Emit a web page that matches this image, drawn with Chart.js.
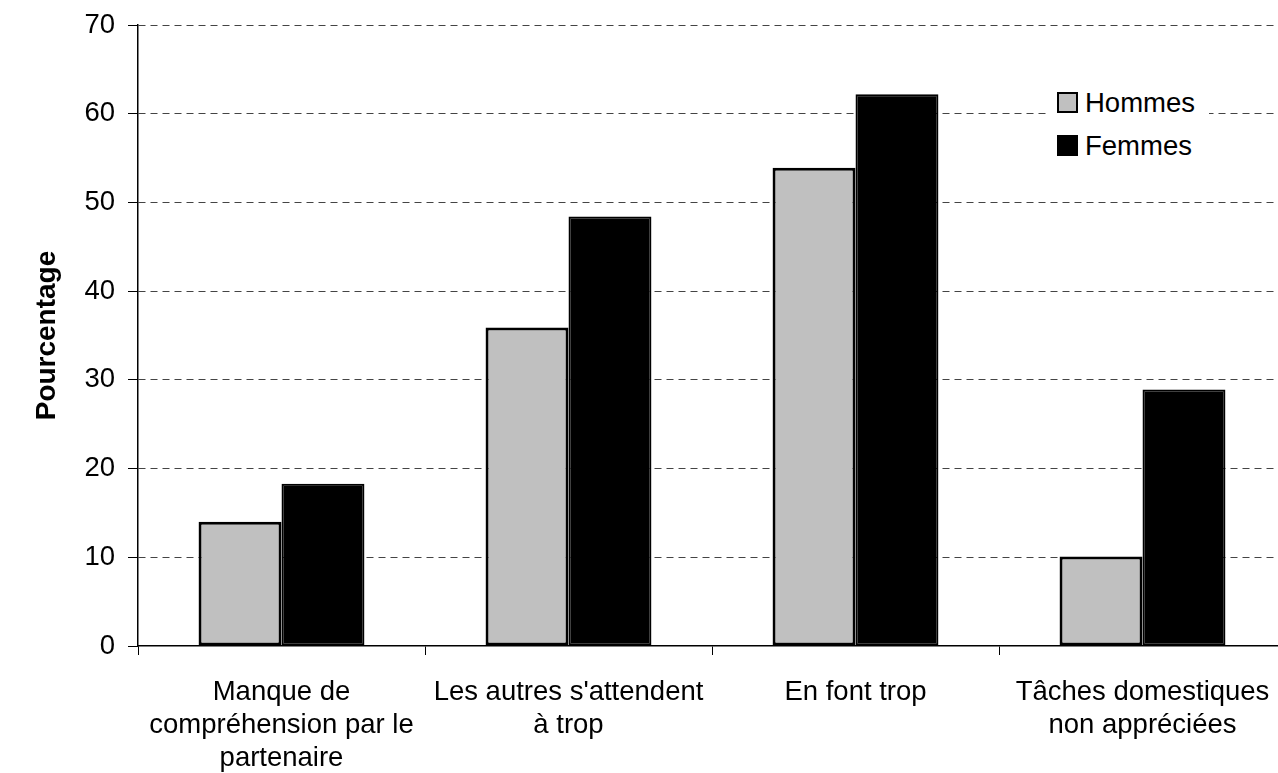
<!DOCTYPE html>
<html>
<head>
<meta charset="utf-8">
<script src="https://cdn.jsdelivr.net/npm/chart.js@4/dist/chart.umd.min.js"></script>
<style>
    body { margin: 0; overflow: hidden; background: #fff; }
    #wrap { position: relative; width: 1290px; height: 773px; }
    #legende { position: absolute; left: 1050px; top: 81px; padding: 0 14px 0 7px; background: #fff; font-family: 'Liberation Sans', Arial, sans-serif; font-size: 27.5px; color: #000; }
    .item { display: flex; align-items: center; height: 43px; }
    .boite { width: 17px; height: 17px; border: 2px solid #000; margin-right: 7px; }
</style>
</head>
<body>
<div id="wrap">
    <canvas id="stressCanvas"></canvas>
    <div id="legende"></div>
</div>
<script>
const categories = [
    ['Manque de', 'compréhension par le', 'partenaire'],
    ["Les autres s'attendent", 'à trop'],
    ['En font trop'],
    ['Tâches domestiques', 'non appréciées']
];
const hommes = [14.0, 35.9, 53.9, 10.1];
const femmes = [18.3, 48.4, 62.2, 28.9];
const yTicks = [0, 10, 20, 30, 40, 50, 60, 70];

const police = "'Liberation Sans', Arial, sans-serif";

document.addEventListener('DOMContentLoaded', function () {
    const ctx = document.getElementById('stressCanvas').getContext('2d');
    const chart = new Chart(ctx, {
        type: 'bar',
        data: {
            labels: categories,
            datasets: [{
                label: 'Hommes',
                data: hommes,
                backgroundColor: '#c0c0c0',
                borderColor: '#000',
                borderWidth: 3,
                borderSkipped: false
            }, {
                label: 'Femmes',
                data: femmes,
                backgroundColor: '#000',
                borderColor: '#000',
                borderWidth: 2,
                borderSkipped: false
            }]
        },
        options: {
            responsive: true,
            maintainAspectRatio: false,
            animation: false,
            layout: { padding: { top: 25, right: 4, bottom: 0, left: 0 } },
            datasets: { bar: { categoryPercentage: 0.578, barPercentage: 1.0 } },
            plugins: {
                legend: { display: false },
                tooltip: { enabled: false }
            },
            scales: {
                x: {
                    afterFit: function (scale) {
                        scale.height = 127;
                        scale.paddingLeft = 0;
                        scale.paddingRight = 0;
                    },
                    grid: {
                        offset: true,
                        drawOnChartArea: false,
                        drawTicks: true,
                        tickLength: 9,
                        color: '#000'
                    },
                    border: { color: '#000', width: 1.5 },
                    ticks: {
                        color: '#000',
                        padding: 21,
                        maxRotation: 0,
                        autoSkip: false,
                        font: { family: police, size: 27.5, lineHeight: 1.2 }
                    }
                },
                y: {
                    min: 0,
                    max: 70,
                    afterFit: function (scale) {
                        scale.width = 138;
                        scale.paddingTop = 0;
                        scale.paddingBottom = 0;
                    },
                    afterBuildTicks: function (scale) {
                        scale.ticks = yTicks.map(v => ({ value: v }));
                    },
                    grid: {
                        color: c => (c.tick && c.tick.value === 0) ? 'rgba(0,0,0,0)' : '#444',
                        lineWidth: 1,
                        tickLength: 10,
                        tickColor: '#000',
                        tickBorderDash: [],
                        tickBorderDashOffset: 0
                    },
                    // en v4, border.dash s'applique aux lignes de grille
                    border: { color: '#000', width: 1.5, dash: [7, 5] },
                    ticks: {
                        color: '#000',
                        padding: 13,
                        font: { family: police, size: 27.5 }
                    },
                    title: {
                        display: true,
                        text: 'Pourcentage',
                        color: '#000',
                        padding: { top: 30, bottom: 0 },
                        font: { family: police, size: 28, weight: 'bold', lineHeight: 1.2 }
                    }
                }
            }
        }
    });

    // legende en html, construite depuis les datasets
    const leg = document.getElementById('legende');
    chart.data.datasets.forEach(ds => {
        const item = document.createElement('div');
        item.className = 'item';
        const boite = document.createElement('span');
        boite.className = 'boite';
        boite.style.background = ds.backgroundColor;
        item.appendChild(boite);
        item.appendChild(document.createTextNode(ds.label));
        leg.appendChild(item);
    });
});
</script>
</body>
</html>
